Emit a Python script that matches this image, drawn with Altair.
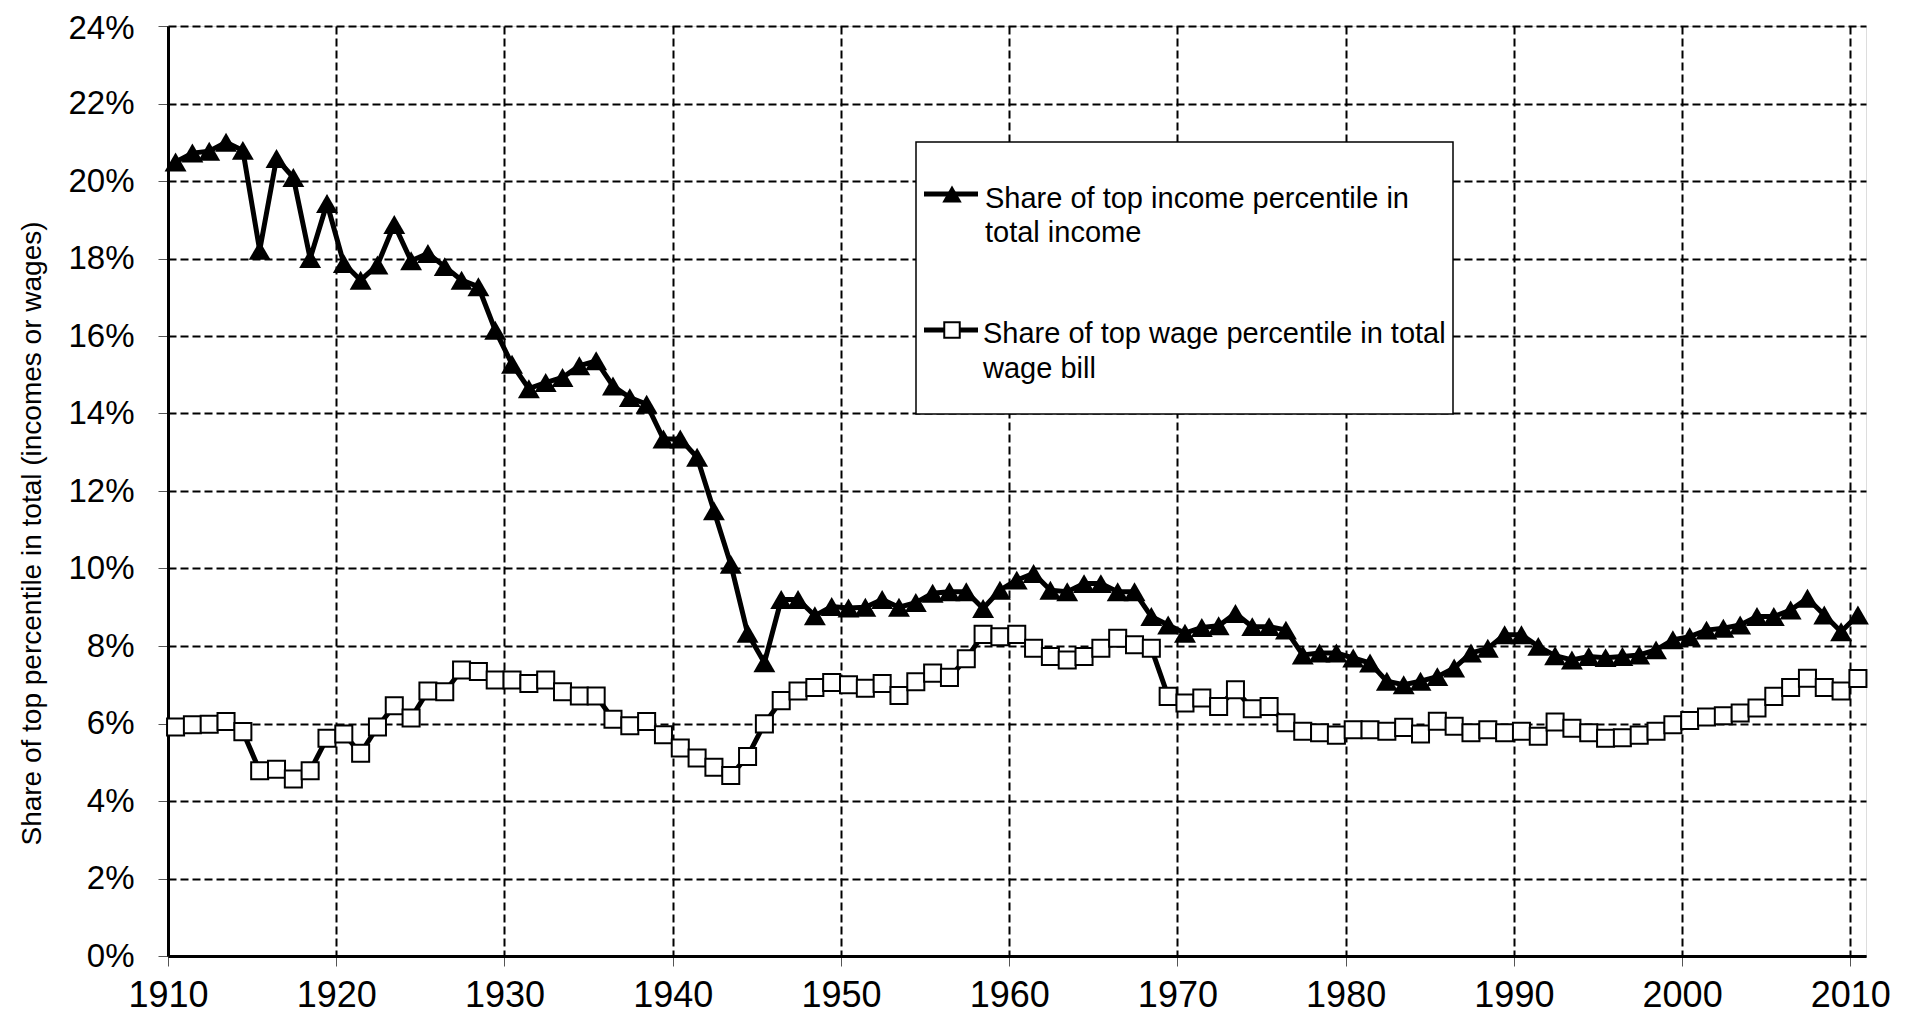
import altair as alt
import pandas as pd

years = list(range(1910, 2011))

income_share = [
    20.49, 20.72, 20.77, 21.00, 20.79, 18.21, 20.58, 20.09, 18.00, 19.42,  # 1910-1919
    17.87, 17.44, 17.83, 18.88, 17.94, 18.13, 17.79, 17.44, 17.27, 16.15,  # 1920-1929
    15.27, 14.64, 14.80, 14.93, 15.23, 15.36, 14.71, 14.41, 14.24, 13.34,  # 1930-1939
    13.34, 12.87, 11.49, 10.11, 8.33, 7.57, 9.20, 9.20, 8.78, 9.02,        # 1940-1949
    8.98, 9.00, 9.20, 9.00, 9.12, 9.36, 9.40, 9.40, 8.97, 9.44,            # 1950-1959
    9.70, 9.87, 9.44, 9.40, 9.61, 9.61, 9.40, 9.40, 8.76, 8.54,            # 1960-1969
    8.33, 8.48, 8.52, 8.84, 8.50, 8.50, 8.41, 7.77, 7.82, 7.82,            # 1970-1979
    7.69, 7.56, 7.09, 7.00, 7.09, 7.21, 7.43, 7.82, 7.94, 8.29,            # 1980-1989
    8.29, 7.99, 7.75, 7.64, 7.73, 7.70, 7.73, 7.77, 7.90, 8.16,            # 1990-1999
    8.24, 8.41, 8.46, 8.54, 8.76, 8.76, 8.93, 9.23, 8.80, 8.37,            # 2000-2009
    8.80,                                                                  # 2010
]

wage_share = [
    5.91, 5.97, 5.98, 6.05, 5.79, 4.78, 4.82, 4.57, 4.78, 5.62,            # 1910-1919
    5.73, 5.23, 5.91, 6.46, 6.14, 6.84, 6.82, 7.38, 7.34, 7.12,            # 1920-1929
    7.12, 7.03, 7.12, 6.82, 6.71, 6.71, 6.11, 5.94, 6.05, 5.71,            # 1930-1939
    5.37, 5.11, 4.87, 4.66, 5.15, 5.99, 6.59, 6.84, 6.93, 7.06,            # 1940-1949
    7.00, 6.91, 7.03, 6.72, 7.08, 7.30, 7.19, 7.67, 8.30, 8.24,            # 1950-1959
    8.30, 7.94, 7.73, 7.64, 7.73, 7.94, 8.20, 8.03, 7.94, 6.70,            # 1960-1969
    6.53, 6.66, 6.44, 6.87, 6.38, 6.44, 6.02, 5.80, 5.76, 5.70,            # 1970-1979
    5.84, 5.84, 5.80, 5.90, 5.73, 6.06, 5.93, 5.76, 5.84, 5.76,            # 1980-1989
    5.80, 5.67, 6.04, 5.88, 5.76, 5.62, 5.63, 5.70, 5.80, 5.97,            # 1990-1999
    6.08, 6.17, 6.20, 6.27, 6.40, 6.70, 6.93, 7.17, 6.93, 6.84,            # 2000-2009
    7.16,                                                                  # 2010
]

x_ticks = list(range(1910, 2011, 10))
y_ticks = list(range(0, 25, 2))

legend_income = ["Share of top income percentile in", "total income"]
legend_wage = ["Share of top wage percentile in total", "wage bill"]
y_title = "Share of top percentile in total (incomes or wages)"

df = pd.DataFrame({"year": years, "income": income_share, "wage": wage_share})

FONT = "Liberation Sans"
TOP = 18
W, H = 1698, 930

x_axis = alt.Axis(
    values=x_ticks, format="d", title=None, labelFlush=False, labelOverlap=False,
    labelFontSize=36, labelFont=FONT, labelColor="black", labelPadding=12,
    tickSize=10, tickColor="#555555", tickWidth=1,
    domainColor="black", domainWidth=3,
    grid=True, gridColor="black", gridDash=[8, 4], gridWidth=2, gridOpacity=1,
)
y_axis = alt.Axis(
    values=y_ticks, labelExpr="datum.value + '%'", labelOverlap=False,
    labelFontSize=33, labelFont=FONT, labelColor="black", labelPadding=24,
    labelOffset={"condition": {"test": "datum.value == 24", "value": 2}, "value": 0},
    tickSize=10, tickColor="#555555", tickWidth=1,
    domainColor="black", domainWidth=3,
    grid=True, gridColor="black", gridDash=[8, 4], gridWidth=2, gridOpacity=1,
    title=y_title, titleFont=FONT, titleFontSize=28, titleFontWeight="normal",
    titleColor="black", titleX=-136, titleY=507, titleAngle=270,
    titleAlign="center", titleBaseline="middle",
)

x_scale = alt.Scale(domain=[1910, 2010.93], nice=False, zero=False)
y_scale = alt.Scale(domain=[0, 24], nice=False)

base = alt.Chart(df).transform_calculate(pos="datum.year + 0.45")


def xe():
    return alt.X("pos:Q", scale=x_scale, axis=x_axis)


def ye(field):
    return alt.Y(f"{field}:Q", scale=y_scale, axis=y_axis)


wage_line = base.mark_line(color="black", strokeWidth=5).encode(x=xe(), y=ye("wage"))
wage_pts = base.mark_point(
    shape="square", filled=True, fill="white", stroke="black", strokeWidth=2,
    size=290, opacity=1,
).encode(x=xe(), y=ye("wage"))
inc_line = base.mark_line(color="black", strokeWidth=5).encode(x=xe(), y=ye("income"))
inc_pts = base.mark_point(
    shape="triangle-up", filled=True, color="black", size=480, opacity=1,
).encode(x=xe(), y=ye("income"))

one = alt.Data(values=[{"k": 1}])
dy = 13 - TOP  # keep the legend at the same page position

leg_box = alt.Chart(one).mark_rect(fill="white", stroke="black", strokeWidth=1.5).encode(
    x=alt.value(748), x2=alt.value(1285), y=alt.value(121 + dy), y2=alt.value(393 + dy)
)
leg_rule1 = alt.Chart(one).mark_rule(color="black", strokeWidth=5).encode(
    x=alt.value(756), x2=alt.value(810), y=alt.value(173 + dy)
)
leg_pt1 = alt.Chart(one).mark_point(
    shape="triangle-up", filled=True, color="black", size=380, opacity=1
).encode(x=alt.value(784), y=alt.value(173 + dy))
leg_txt1 = alt.Chart(one).mark_text(
    text=legend_income, font=FONT, fontSize=29, align="left", baseline="alphabetic",
    lineHeight=34, color="black",
).encode(x=alt.value(817), y=alt.value(187 + dy))

leg_rule2 = alt.Chart(one).mark_rule(color="black", strokeWidth=5).encode(
    x=alt.value(756), x2=alt.value(810), y=alt.value(309 + dy)
)
leg_pt2 = alt.Chart(one).mark_point(
    shape="square", filled=True, fill="white", stroke="black", strokeWidth=2,
    size=240, opacity=1,
).encode(x=alt.value(784), y=alt.value(309 + dy))
leg_txt2 = alt.Chart(one).mark_text(
    text=legend_wage, font=FONT, fontSize=29, align="left", baseline="alphabetic",
    lineHeight=35, color="black",
).encode(x=alt.value(815), y=alt.value(322 + dy))

chart = alt.layer(
    wage_line, wage_pts, inc_line, inc_pts,
    leg_box, leg_rule1, leg_pt1, leg_txt1, leg_rule2, leg_pt2, leg_txt2,
).properties(
    width=W, height=H,
    autosize=alt.AutoSizeParams(type="none"),
    padding={"left": 160, "top": TOP, "right": 40, "bottom": 59},
).configure_view(
    stroke="black", strokeWidth=2.5
).configure(background="white")

chart.save("out.html", embed_options={"renderer": "svg", "actions": False})
